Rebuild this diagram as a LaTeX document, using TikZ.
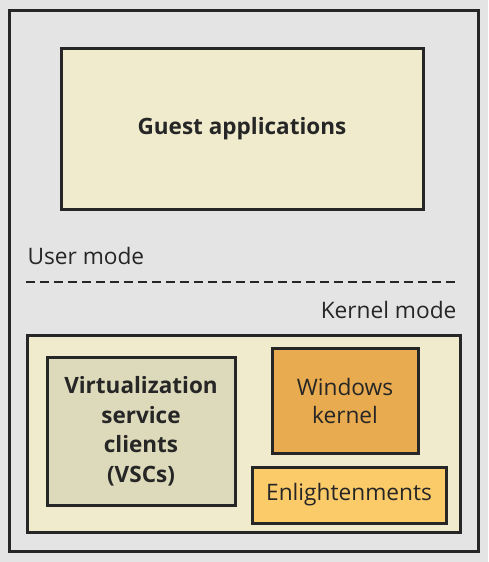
\documentclass[tikz,border=0pt]{standalone}
\usepackage{fontspec}
\setmainfont{Open Sans}
\definecolor{bggray}{HTML}{E4E4E4}
\definecolor{cream}{HTML}{F0EBCC}
\definecolor{vscfill}{HTML}{DDDABB}
\definecolor{kernfill}{HTML}{E8AB4F}
\definecolor{enlfill}{HTML}{FBCB6A}
\definecolor{edge}{HTML}{262626}
\begin{document}
\begin{tikzpicture}[x=1pt,y=-1pt,
  boxstyle/.style={draw=edge,line width=3pt},
  lbl/.style={font=\fontsize{22.7}{28}\selectfont,text=edge,align=center},
  blbl/.style={font=\fontsize{22.5}{29.5}\selectfont\bfseries,text=edge,align=center}]
\fill[bggray] (0,0) rectangle (488,562);
\useasboundingbox (0,0) rectangle (488,562);
\draw[boxstyle,fill=bggray] (9,10) rectangle (478,551);
\node[boxstyle,fill=cream,minimum width=362pt,minimum height=161pt,inner sep=0pt] (guest) at (242,128.5) {};
\node[blbl] at (guest.center) {Guest applications};
\node[lbl,anchor=west] (user) at (24,256) {User mode};
\coordinate (dl) at (26,282);
\coordinate (dr) at (455,282);
\draw[edge,line width=2.2pt,dash pattern=on 9pt off 5pt] (dl) -- (dr);
\node[lbl,anchor=east] (kmode) at (460,310) {Kernel mode};
\node[boxstyle,fill=cream,minimum width=433pt,minimum height=197pt,inner sep=0pt] (kbox) at (243.5,433.5) {};
\node[boxstyle,fill=vscfill,minimum width=188pt,minimum height=148pt,inner sep=0pt] (vsc) at (141,431) {};
\node[blbl] at (vsc.center) {Virtualization\\service\\clients\\(VSCs)};
\node[boxstyle,fill=kernfill,minimum width=146pt,minimum height=105pt,inner sep=0pt] (wk) at (345,400.5) {};
\node[lbl] at (wk.center) {Windows\\kernel};
\node[boxstyle,fill=enlfill,minimum width=194pt,minimum height=56pt,inner sep=0pt] (enl) at (349,495) {};
\node[lbl] at (enl.center) {Enlightenments};
\end{tikzpicture}
\end{document}
